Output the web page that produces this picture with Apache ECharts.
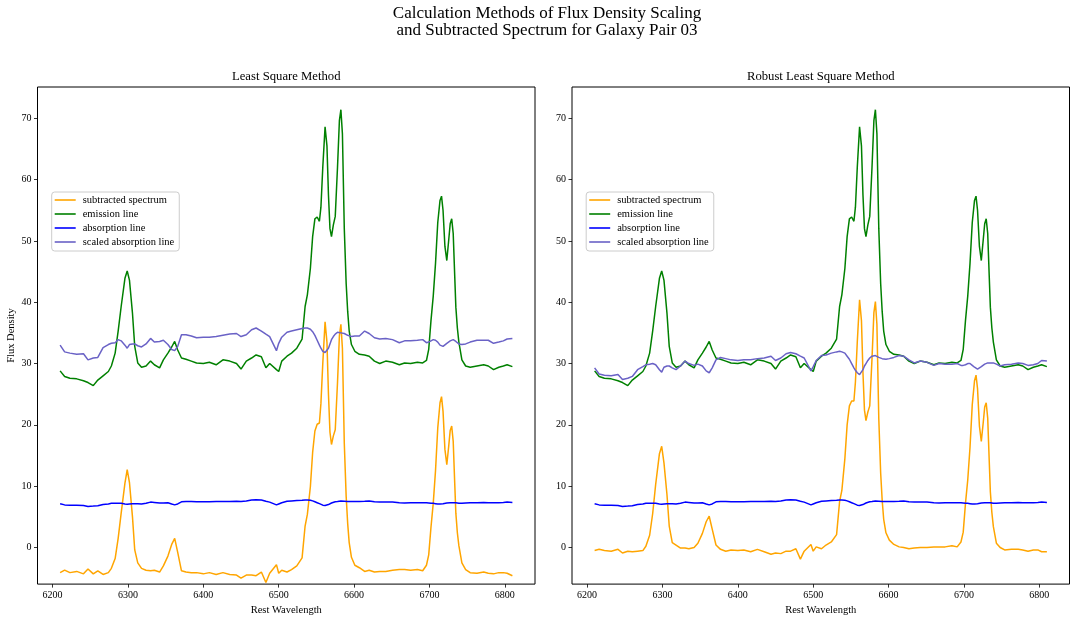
<!DOCTYPE html>
<html>
<head>
<meta charset="utf-8">
<script src="https://cdn.jsdelivr.net/npm/echarts@6/dist/echarts.min.js"></script>
<style>
html,body{margin:0;padding:0;background:#fff;}
#chart{width:1076px;height:621px;}
</style>
</head>
<body>
<div id="chart"></div>
<script>
const wavelength = [6210,6216,6223,6232,6241,6247,6254,6260,6267,6274,
6278,6283,6287,6291,6296,6299,6302,6306,6309,6313,
6318,6324,6330,6335,6342,6347,6353,6358,6362,6366,
6371,6377,6384,6391,6400,6408,6417,6426,6435,6444,
6450,6457,6464,6470,6477,6483,6488,6497,6500,6504,
6511,6517,6524,6531,6535,6538,6542,6545,6548,6551,
6554,6556,6558.5,6561.5,6564,6566,6568,6570,6572.5,6575,
6578,6580.5,6582.5,6584.5,6587,6589.5,6591.5,6593.5,6596.5,6601,
6607,6614,6620,6627,6634,6642,6651,6660,6667,6675,
6684,6691,6696,6699,6702,6705,6708,6711,6714,6716,
6718,6720.5,6723,6725.5,6727.5,6729.5,6731.5,6733.5,6735,6737,
6739,6743,6748,6754,6763,6772,6778,6785,6792,6798,
6803,6810];

const emissionLine = [28.8,27.9,27.6,27.5,27.2,26.9,26.4,27.3,28.0,28.7,
29.6,31.7,35.3,39.3,43.9,45.1,43.6,38.2,32.8,30.1,
29.4,29.6,30.4,29.8,29.3,30.6,31.7,32.7,33.6,32.2,
30.9,30.7,30.4,30.1,30.0,30.2,29.8,30.6,30.4,30.0,
29.1,30.4,30.9,31.4,31.1,29.3,30.0,29.0,28.7,30.4,
31.2,31.7,32.5,34.0,39.3,41.2,45.5,50.7,53.6,53.9,
53.2,55.5,62.1,68.6,65.5,57.5,52.0,50.7,52.6,54.0,
62.0,69.6,71.4,67.5,52.0,43.0,38.5,35.3,33.1,32.0,
31.5,31.4,31.2,30.4,30.0,30.4,30.2,29.8,30.1,30.0,
30.2,30.1,30.5,32.3,37.0,41.0,46.3,53.0,56.6,57.3,
55.0,49.1,46.8,50.1,52.8,53.6,51.2,44.3,39.2,35.8,
33.5,30.6,29.6,29.4,29.6,29.8,29.6,29.0,29.4,29.6,
29.8,29.5];

const absorptionLine = [7.15,6.95,6.9,6.9,6.85,6.7,6.75,6.8,7.0,7.1,
7.2,7.2,7.2,7.2,7.1,7.05,7.1,7.15,7.15,7.15,
7.1,7.2,7.4,7.35,7.25,7.25,7.3,7.1,6.95,7.1,
7.45,7.5,7.5,7.45,7.45,7.45,7.5,7.5,7.5,7.55,
7.5,7.6,7.75,7.8,7.75,7.55,7.4,6.95,7.1,7.3,
7.55,7.6,7.65,7.7,7.75,7.75,7.7,7.6,7.45,7.3,
7.15,7.0,6.9,6.85,6.9,7.0,7.15,7.25,7.35,7.45,
7.5,7.55,7.6,7.6,7.55,7.5,7.5,7.5,7.5,7.5,
7.5,7.55,7.6,7.45,7.4,7.4,7.4,7.3,7.25,7.3,
7.3,7.3,7.3,7.25,7.2,7.2,7.15,7.1,7.1,7.1,
7.15,7.2,7.25,7.3,7.3,7.3,7.3,7.3,7.3,7.25,
7.2,7.2,7.25,7.3,7.3,7.35,7.3,7.3,7.3,7.35,
7.4,7.35];

const lsqScaled = [33.0,31.9,31.7,31.5,31.6,30.6,30.9,31.0,32.6,33.1,
33.3,33.4,33.9,33.7,33.0,32.5,33.1,33.2,33.2,32.9,
32.7,33.2,34.1,33.5,33.6,33.8,33.1,32.3,32.1,32.8,
34.7,34.7,34.5,34.2,34.3,34.3,34.4,34.6,34.8,34.9,
34.4,34.7,35.5,35.8,35.3,34.8,34.4,32.1,33.3,34.3,
35.1,35.3,35.5,35.7,35.8,35.8,35.6,35.2,34.6,33.8,
33.0,32.5,32.0,31.8,32.0,32.5,33.2,33.9,34.4,34.8,
35.1,35.1,35.0,35.0,34.9,34.7,34.6,34.5,34.4,34.5,
34.5,35.3,34.9,34.2,34.0,34.1,33.9,33.4,33.7,33.7,
33.8,33.9,33.4,33.5,33.7,33.9,33.8,33.5,33.0,32.7,
32.8,33.1,33.3,33.6,33.7,33.8,33.9,33.8,33.6,33.4,
33.2,33.1,33.2,33.5,33.8,33.8,33.8,33.3,33.5,33.7,
34.0,34.1];

const lsqSubtracted = [-4.1,-3.7,-4.1,-3.9,-4.3,-3.5,-4.3,-3.8,-4.4,-4.1,
-3.4,-1.8,1.5,5.6,10.5,12.7,10.6,5.0,-0.4,-2.5,
-3.4,-3.7,-3.8,-3.7,-4.0,-3.0,-1.4,0.5,1.5,-0.8,
-3.8,-4.0,-4.1,-4.1,-4.3,-4.1,-4.4,-4.1,-4.4,-4.5,
-5.0,-4.5,-4.5,-4.6,-4.0,-5.7,-4.2,-2.8,-4.2,-3.7,
-4.0,-3.6,-3.0,-1.7,3.5,5.4,9.9,15.5,19.0,20.1,
20.3,23.5,30.1,36.8,33.5,25.0,18.8,16.8,18.2,19.2,
26.9,34.5,36.4,32.5,17.0,8.3,3.9,0.8,-1.6,-2.9,
-3.3,-3.9,-3.7,-4.0,-3.9,-3.9,-3.7,-3.6,-3.6,-3.7,
-3.6,-3.8,-2.9,-1.2,3.3,7.2,12.5,19.5,23.6,24.6,
22.2,16.0,13.5,16.5,19.1,19.8,17.3,10.5,5.6,2.4,
0.3,-2.5,-3.6,-4.1,-4.2,-4.0,-4.2,-4.3,-4.1,-4.1,
-4.2,-4.6];

const rlsScaled = [29.3,28.3,28.1,28.0,28.2,27.4,27.6,27.9,29.0,29.5,
29.8,29.9,30.0,29.8,29.0,28.6,29.4,29.6,29.6,29.3,
29.0,29.6,30.4,30.0,29.7,29.9,29.6,28.8,28.5,29.3,
30.6,31.0,30.8,30.6,30.5,30.6,30.6,30.8,30.9,31.2,
30.5,30.9,31.6,31.8,31.6,31.2,30.9,28.8,29.5,30.5,
31.3,31.4,31.7,31.9,32.0,31.9,31.7,31.2,30.7,30.0,
29.3,28.9,28.5,28.2,28.5,29.0,29.6,30.0,30.5,30.9,
31.2,31.3,31.3,31.1,31.0,30.9,30.8,30.7,30.7,30.8,
31.0,31.3,31.2,30.6,30.1,30.4,30.2,29.7,30.0,29.9,
29.9,30.0,29.7,29.7,29.8,30.0,30.0,29.7,29.4,29.2,
29.1,29.3,29.5,29.8,29.9,30.0,30.1,30.1,30.1,30.1,
30.1,29.9,29.6,29.8,29.9,30.1,30.0,29.7,29.8,30.0,
30.5,30.4];

const rlsSubtracted = [-0.5,-0.3,-0.5,-0.6,-0.3,-0.9,-0.6,-0.7,-0.6,-0.5,
0.2,2.0,5.5,10.3,15.3,16.5,13.8,8.6,3.5,0.8,
0.4,-0.1,-0.1,-0.2,0.0,0.7,2.3,4.2,5.1,3.0,
0.4,-0.3,-0.6,-0.4,-0.5,-0.4,-0.7,-0.3,-0.7,-1.1,
-0.9,-1.0,-0.6,-0.6,-0.2,-1.9,-0.6,0.5,-0.6,0.1,
-0.2,0.4,0.9,2.1,7.5,9.3,14.5,20.0,23.1,23.9,
23.9,27.0,33.6,40.4,37.0,28.5,22.4,20.7,22.1,23.1,
30.8,38.3,40.1,36.4,21.0,12.1,7.7,4.6,2.4,1.2,
0.5,0.1,0.0,-0.2,-0.1,0.0,0.0,0.1,0.1,0.1,
0.3,0.1,0.9,2.5,7.2,11.0,16.3,23.3,27.2,28.1,
25.9,19.8,17.3,20.3,22.9,23.6,21.1,14.2,9.1,5.7,
3.4,0.7,0.0,-0.4,-0.3,-0.3,-0.4,-0.6,-0.4,-0.4,
-0.7,-0.7];

const xTicks = [6200,6300,6400,6500,6600,6700,6800];
const yTicks = [0,10,20,30,40,50,60,70];
const seriesNames = ['subtracted spectrum','emission line','absorption line','scaled absorption line'];
const panelTitles = ['Least Square Method','Robust Least Square Method'];
const suptitleLines = ['Calculation Methods of Flux Density Scaling','and Subtracted Spectrum for Galaxy Pair 03'];

const colors = ['#FFA500','#008000','#0000FF','#6A62C6'];
const FONT = '"Liberation Serif", "DejaVu Serif", serif';

function pairs(ys){ return wavelength.map((w,i)=>[w, ys[i]]); }

const panels = [
  {left:37.5, data:[lsqSubtracted, emissionLine, absorptionLine, lsqScaled]},
  {left:572, data:[rlsSubtracted, emissionLine, absorptionLine, rlsScaled]}
];
const gridW = 497.5, gridTop = 87, gridH = 498;

const grids = [], xAxes = [], yAxes = [], series = [], legends = [], graphics = [];
panels.forEach((p, k) => {
  grids.push({left:p.left, top:gridTop, width:gridW, height:gridH, show:true, borderColor:'#000', borderWidth:1, backgroundColor:'transparent'});
  xAxes.push({
    type:'value', gridIndex:k, min:6180, max:6840, position:'bottom',
    name:'Rest Wavelength', nameLocation:'middle', nameGap:18,
    nameTextStyle:{fontFamily:FONT, fontSize:10.5, color:'#000'},
    axisLine:{show:false, onZero:false}, splitLine:{show:false},
    axisTick:{show:true, inside:false, length:3.5, lineStyle:{color:'#000', width:0.8}, customValues:xTicks},
    axisLabel:{show:true, margin:6, fontFamily:FONT, fontSize:10, color:'#000', customValues:xTicks, formatter:(v)=>String(v)}
  });
  yAxes.push({
    type:'value', gridIndex:k, min:-5.97, max:75.1, position:'left',
    name: k===0 ? 'Flux Density' : '', nameLocation:'middle', nameGap:21,
    nameTextStyle:{fontFamily:FONT, fontSize:10.5, color:'#000'},
    axisLine:{show:false, onZero:false}, splitLine:{show:false},
    axisTick:{show:true, inside:false, length:3.5, lineStyle:{color:'#000', width:0.8}, customValues:yTicks},
    axisLabel:{show:true, margin:6, fontFamily:FONT, fontSize:10, color:'#000', customValues:yTicks, formatter:(v)=>String(v)}
  });
  seriesNames.forEach((nm, j) => {
    series.push({
      type:'line', name:nm, xAxisIndex:k, yAxisIndex:k,
      data:pairs(p.data[j]), showSymbol:false, symbol:'none',
      color:colors[j], itemStyle:{color:colors[j]},
      lineStyle:{color:colors[j], width:1.5}, z:2+j, animation:false, silent:true
    });
  });
  legends.push({
    data:seriesNames, orient:'vertical', left:p.left+14.2, top:192,
    icon:'rect', itemWidth:21, itemHeight:1.6, itemGap:2,
    padding:[2,5,3,3], backgroundColor:'rgba(255,255,255,0.8)',
    borderColor:'#cccccc', borderWidth:1, borderRadius:3,
    selectedMode:false,
    textStyle:{fontFamily:FONT, fontSize:10.5, color:'#000', lineHeight:12, padding:[0,0,0,2]}
  });
  graphics.push({type:'text', x:p.left+gridW/2, y:76.5, silent:true,
    style:{text:panelTitles[k], fill:'#000', font:'12.7px '+FONT, align:'center', verticalAlign:'middle', textAlign:'center', textVerticalAlign:'middle'}});
});
graphics.push({type:'text', x:547, y:13.5, silent:true,
  style:{text:suptitleLines[0], fill:'#000', font:'17px '+FONT, align:'center', verticalAlign:'middle', textAlign:'center', textVerticalAlign:'middle'}});
graphics.push({type:'text', x:547, y:30.5, silent:true,
  style:{text:suptitleLines[1], fill:'#000', font:'17px '+FONT, align:'center', verticalAlign:'middle', textAlign:'center', textVerticalAlign:'middle'}});

const chart = echarts.init(document.getElementById('chart'), null, {renderer:'canvas'});
chart.setOption({
  animation:false,
  backgroundColor:'#fff',
  grid:grids, xAxis:xAxes, yAxis:yAxes, series:series, legend:legends, graphic:graphics
});
</script>
</body>
</html>
